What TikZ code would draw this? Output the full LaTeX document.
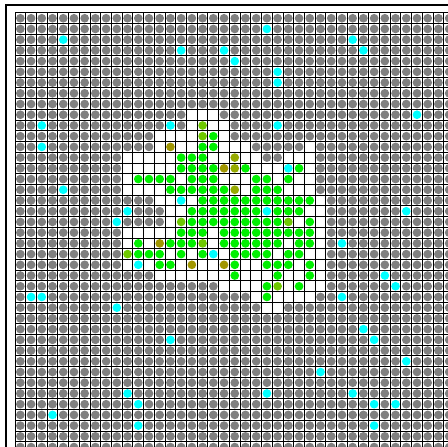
\documentclass[tikz,border=0pt]{standalone}
\usepackage{xcolor}
\begin{document}
\begin{tikzpicture}[x=1pt,y=-1pt]
\def\PP{10.72}
\def\OX{15}
\def\OY{12.9}
\def\RR{4.35pt}
\tikzset{
  gridline/.style={line width=0.95pt, black},
  tgray/.style={fill={rgb,255:red,128;green,128;blue,128}},
  tgreen/.style={fill={rgb,255:red,0;green,240;blue,0}},
  tolive/.style={fill={rgb,255:red,160;green,150;blue,0}},
  toliveg/.style={fill={rgb,255:red,150;green,170;blue,0}},
  tyg/.style={fill={rgb,255:red,110;green,200;blue,0}},
  tcyan/.style={fill={rgb,255:red,0;green,255;blue,255}},
  tempty/.style={fill=white}
}
\useasboundingbox (0,0) rectangle (448,447);
\fill[white] (0,0) rectangle (448,447);
\begin{scope}
\clip (0,0) rectangle (448,447);
\foreach \cc in {0,...,40}{
  \foreach \rr in {0,...,40}{
    \path[tgray] ({\OX+\PP*\cc+\PP/2},{\OY+\PP*\rr+\PP/2}) circle[radius=\RR];
  }
}
\foreach \cc/\rr in {
16/9,17/9,18/9,
14/10,16/10,17/10,18/10,19/10,24/10,
13/11,14/11,15/11,16/11,17/11,18/11,19/11,
13/12,14/12,15/12,16/12,17/12,18/12,19/12,20/12,21/12,27/12,
10/13,11/13,12/13,13/13,14/13,15/13,16/13,17/13,18/13,19/13,20/13,21/13,22/13,25/13,26/13,27/13,
10/14,11/14,12/14,13/14,14/14,15/14,16/14,17/14,18/14,19/14,20/14,21/14,22/14,23/14,24/14,25/14,26/14,27/14,
10/15,11/15,12/15,13/15,14/15,15/15,16/15,17/15,18/15,19/15,20/15,21/15,22/15,23/15,24/15,25/15,26/15,27/15,
10/16,11/16,12/16,13/16,14/16,15/16,16/16,17/16,18/16,19/16,20/16,21/16,22/16,23/16,24/16,25/16,26/16,27/16,
13/17,14/17,15/17,16/17,17/17,18/17,19/17,20/17,21/17,22/17,23/17,24/17,25/17,26/17,27/17,28/17,
10/18,14/18,15/18,16/18,17/18,18/18,19/18,20/18,21/18,22/18,23/18,24/18,25/18,26/18,27/18,28/18,
9/19,14/19,15/19,16/19,17/19,18/19,19/19,20/19,21/19,22/19,23/19,24/19,25/19,26/19,27/19,28/19,
10/20,11/20,12/20,13/20,14/20,15/20,16/20,17/20,18/20,19/20,20/20,21/20,22/20,23/20,24/20,25/20,26/20,27/20,28/20,
10/21,11/21,12/21,13/21,14/21,15/21,16/21,17/21,18/21,19/21,20/21,21/21,22/21,23/21,24/21,25/21,26/21,27/21,28/21,
10/22,11/22,12/22,13/22,14/22,15/22,16/22,17/22,18/22,19/22,20/22,21/22,22/22,23/22,24/22,25/22,26/22,27/22,28/22,
10/23,11/23,12/23,13/23,14/23,15/23,16/23,17/23,18/23,19/23,20/23,21/23,22/23,23/23,24/23,25/23,26/23,27/23,28/23,
13/24,14/24,15/24,16/24,17/24,18/24,19/24,20/24,21/24,22/24,23/24,24/24,25/24,26/24,27/24,28/24,
19/25,20/25,21/25,22/25,23/25,24/25,25/25,26/25,27/25,28/25,
22/26,23/26,24/26,25/26,26/26,27/26,
23/27,24/27
}{
  \path[tempty] ({\OX+\PP*\cc},{\OY+\PP*\rr}) rectangle ++(\PP,\PP);
}
\foreach \cc/\rr in {
18/11,
17/12,18/12,
15/13,16/13,17/13,
15/14,16/14,17/14,18/14,21/14,26/14,
11/15,12/15,13/15,14/15,16/15,17/15,18/15,22/15,23/15,25/15,
14/16,15/16,16/16,17/16,18/16,19/16,22/16,23/16,24/16,
17/17,18/17,19/17,20/17,21/17,22/17,23/17,24/17,25/17,26/17,27/17,
16/18,17/18,18/18,19/18,20/18,21/18,22/18,24/18,25/18,26/18,
16/19,17/19,18/19,19/19,20/19,21/19,22/19,23/19,24/19,27/19,
15/20,16/20,17/20,19/20,20/20,21/20,22/20,23/20,24/20,25/20,26/20,27/20,
11/21,14/21,15/21,16/21,19/21,20/21,21/21,22/21,23/21,24/21,26/21,27/21,
11/22,12/22,13/22,15/22,17/22,20/22,21/22,22/22,23/22,25/22,26/22,
13/23,14/23,20/23,23/23,24/23,25/23,27/23,
20/24,24/24,27/24,
23/25,26/25,
23/26
}{
  \path[tgreen] ({\OX+\PP*\cc+\PP/2},{\OY+\PP*\rr+\PP/2}) circle[radius=\RR];
}
\foreach \cc/\rr in {14/12,19/14,16/23,19/23,13/21}{
  \path[tolive] ({\OX+\PP*\cc+\PP/2},{\OY+\PP*\rr+\PP/2}) circle[radius=\RR];
}
\foreach \cc/\rr in {20/13,20/14,20/16}{
  \path[toliveg] ({\OX+\PP*\cc+\PP/2},{\OY+\PP*\rr+\PP/2}) circle[radius=\RR];
}
\foreach \cc/\rr in {17/10,17/11,15/19,25/19,17/21,10/22,24/25}{
  \path[tyg] ({\OX+\PP*\cc+\PP/2},{\OY+\PP*\rr+\PP/2}) circle[radius=\RR];
}
\foreach \cc/\rr in {
23/1,4/2,31/2,15/3,19/3,32/3,20/4,24/5,24/6,37/9,2/10,14/10,24/10,2/12,
25/14,4/16,15/17,36/18,10/18,9/19,23/18,30/21,11/23,18/22,1/26,2/26,
34/24,35/25,9/27,30/26,32/29,14/30,33/30,36/32,28/33,31/35,33/36,35/36,
33/38,10/35,11/36,23/35,3/37,11/38
}{
  \path[tempty] ({\OX+\PP*\cc},{\OY+\PP*\rr}) rectangle ++(\PP,\PP);
  \path[tcyan] ({\OX+\PP*\cc+\PP/2},{\OY+\PP*\rr+\PP/2}) circle[radius=\RR];
}
\foreach \i in {0,...,41}{
  \draw[gridline] ({\OX+\PP*\i},\OY) -- ({\OX+\PP*\i},460);
  \draw[gridline] (\OX,{\OY+\PP*\i}) -- (460,{\OY+\PP*\i});
}
\end{scope}
\draw[line width=2pt] (448,5) -- (6,5) -- (6,447);
\end{tikzpicture}
\end{document}
